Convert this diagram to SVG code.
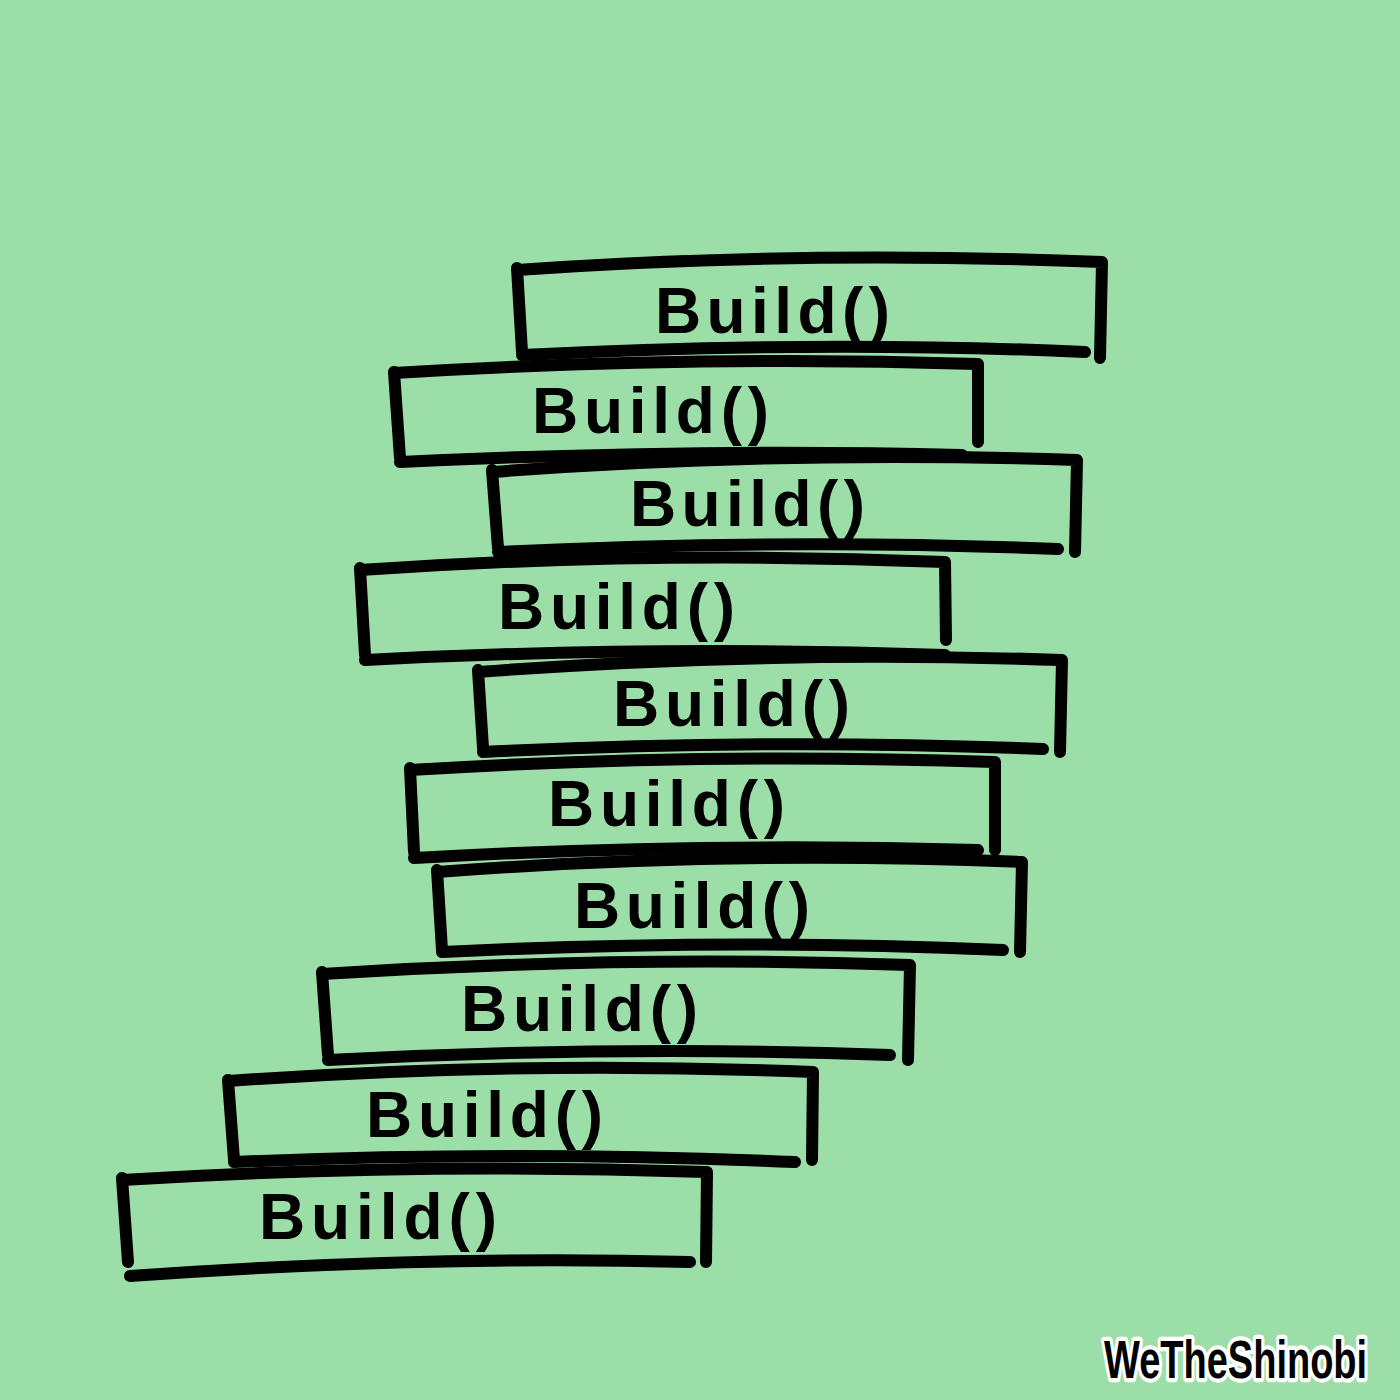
<svg xmlns="http://www.w3.org/2000/svg" width="1400" height="1400" viewBox="0 0 1400 1400">
<style>
.ln{fill:none;stroke:#000;stroke-width:12;stroke-linecap:round;stroke-linejoin:round}
.lb{font-family:"Liberation Sans",Arial,sans-serif;font-weight:bold;font-size:64px;fill:#000}
.sig{font-family:"Liberation Sans",Arial,sans-serif;font-weight:bold;font-size:38px;fill:#000;stroke:#fff;stroke-width:6;paint-order:stroke;stroke-linejoin:round}
</style>
<rect width="1400" height="1400" fill="#9cdea8"/>
<g id="box1"><path class="ln" d="M517,268 L522,352 M517,270 Q800,250 1102,262 L1100,358 M522,355 Q820,340 1085,352"/><text class="lb" x="655" y="333" textLength="235" lengthAdjust="spacing">Build()</text></g>
<g id="box2"><path class="ln" d="M394,372 L400,458 M394,373 Q690,355 978,364 L978,442 M400,462 Q700,448 962,455"/><text class="lb" x="532" y="433" textLength="237" lengthAdjust="spacing">Build()</text></g>
<g id="box3"><path class="ln" d="M492,470 L498,548 M492,472 Q780,450 1077,460 L1075,552 M498,552 Q790,538 1058,549"/><text class="lb" x="630" y="526" textLength="235" lengthAdjust="spacing">Build()</text></g>
<g id="box4"><path class="ln" d="M360,568 L365,655 M360,570 Q650,550 945,562 L946,640 M365,660 Q660,645 945,655"/><text class="lb" x="498" y="629" textLength="237" lengthAdjust="spacing">Build()</text></g>
<g id="box5"><path class="ln" d="M478,670 L483,748 M478,672 Q770,650 1062,660 L1060,752 M483,752 Q770,738 1043,749"/><text class="lb" x="613" y="726" textLength="237" lengthAdjust="spacing">Build()</text></g>
<g id="box6"><path class="ln" d="M410,768 L414,852 M410,770 Q700,752 995,762 L995,850 M414,858 Q700,842 978,850"/><text class="lb" x="548" y="826" textLength="237" lengthAdjust="spacing">Build()</text></g>
<g id="box7"><path class="ln" d="M437,870 L442,950 M437,872 Q730,850 1022,862 L1020,952 M442,952 Q730,938 1003,950"/><text class="lb" x="574" y="928" textLength="236" lengthAdjust="spacing">Build()</text></g>
<g id="box8"><path class="ln" d="M322,972 L328,1055 M322,974 Q620,955 910,965 L908,1060 M328,1060 Q620,1045 890,1055"/><text class="lb" x="461" y="1031" textLength="237" lengthAdjust="spacing">Build()</text></g>
<g id="box9"><path class="ln" d="M228,1080 L234,1160 M228,1081 Q520,1060 813,1072 L812,1160 M234,1162 Q520,1150 795,1162"/><text class="lb" x="366" y="1137" textLength="237" lengthAdjust="spacing">Build()</text></g>
<g id="box10"><path class="ln" d="M122,1178 L128,1262 M122,1180 Q410,1162 707,1172 L706,1262 M130,1276 Q420,1255 690,1262"/><text class="lb" x="259" y="1239" textLength="238" lengthAdjust="spacing">Build()</text></g>
<g id="signature" transform="translate(1104,1378) scale(1,1.4)"><text class="sig" x="0" y="0">WeTheShinobi</text></g>
</svg>
